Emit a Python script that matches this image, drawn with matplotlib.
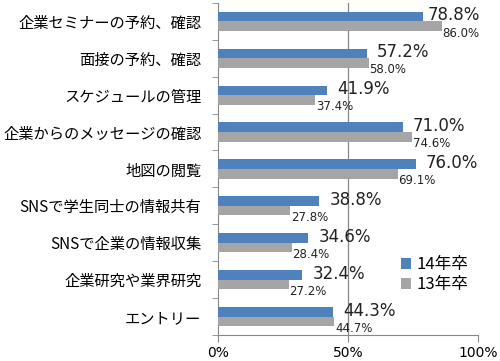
import numpy as np
import matplotlib
matplotlib.use("Agg")
from matplotlib import pyplot as plt

plt.rcParams['font.family'] = ['Noto Sans CJK JP', 'DejaVu Sans']

categories = ["企業セミナーの予約、確認", "面接の予約、確認", "スケジュールの管理",
              "企業からのメッセージの確認", "地図の閲覧", "SNSで学生同士の情報共有",
              "SNSで企業の情報収集", "企業研究や業界研究", "エントリー"]
grad14 = [78.8, 57.2, 41.9, 71.0, 76.0, 38.8, 34.6, 32.4, 44.3]
grad13 = [86.0, 58.0, 37.4, 74.6, 69.1, 27.8, 28.4, 27.2, 44.7]
series_names = ["14年卒", "13年卒"]

blue = '#4f81bd'
gray = '#a5a5a5'
axis_color = '#868686'

fig = plt.figure(figsize=(5, 3.61), dpi=100)
ax = fig.add_axes([0.436, 0.072, 0.52, 0.92])

y = np.arange(len(categories))
h = 0.26
ax.barh(y - h / 2, grad14, height=h, color=blue, label=series_names[0], zorder=3)
ax.barh(y + h / 2, grad13, height=h, color=gray, label=series_names[1], zorder=3)

for i, (a, b) in enumerate(zip(grad14, grad13)):
    ax.text(min(a + 4.0, 80.8), i - h / 2 - 0.03, f"{a:.1f}%", fontsize=12,
            va='center', ha='left', color='#222222', family='DejaVu Sans', zorder=4)
    ax.annotate(f"{b:.1f}%", xy=(b, i + h / 2), xytext=(0.5, -5), textcoords='offset points',
                fontsize=8.5, va='center', ha='left', color='#222222',
                family='DejaVu Sans', zorder=4)

ax.set_xlim(0, 100)
ax.set_ylim(len(categories) - 0.5, -0.5)
ax.set_xticks([0, 50, 100])
ax.set_xticklabels(["0%", "50%", "100%"], fontsize=10, family='DejaVu Sans')
ax.set_yticks(y)
ax.set_yticklabels(categories, fontsize=11)
ax.set_yticks(np.arange(-0.5, len(categories), 1), minor=True)
ax.tick_params(axis='y', which='major', length=0, pad=12)
ax.tick_params(axis='y', which='minor', length=4, color=axis_color, direction='out')
ax.tick_params(axis='x', length=5, color=axis_color, direction='out', pad=3)
ax.axvline(50, color=axis_color, lw=0.9, zorder=1)

for s in ['top', 'right']:
    ax.spines[s].set_visible(False)
for s in ['left', 'bottom']:
    ax.spines[s].set_color(axis_color)

ax.legend(loc='lower right', bbox_to_anchor=(1.02, 0.08), frameon=False, fontsize=12,
          handlelength=0.6, handleheight=0.6, handletextpad=0.3, labelspacing=0.2)

fig.savefig("out.png", dpi=100)
